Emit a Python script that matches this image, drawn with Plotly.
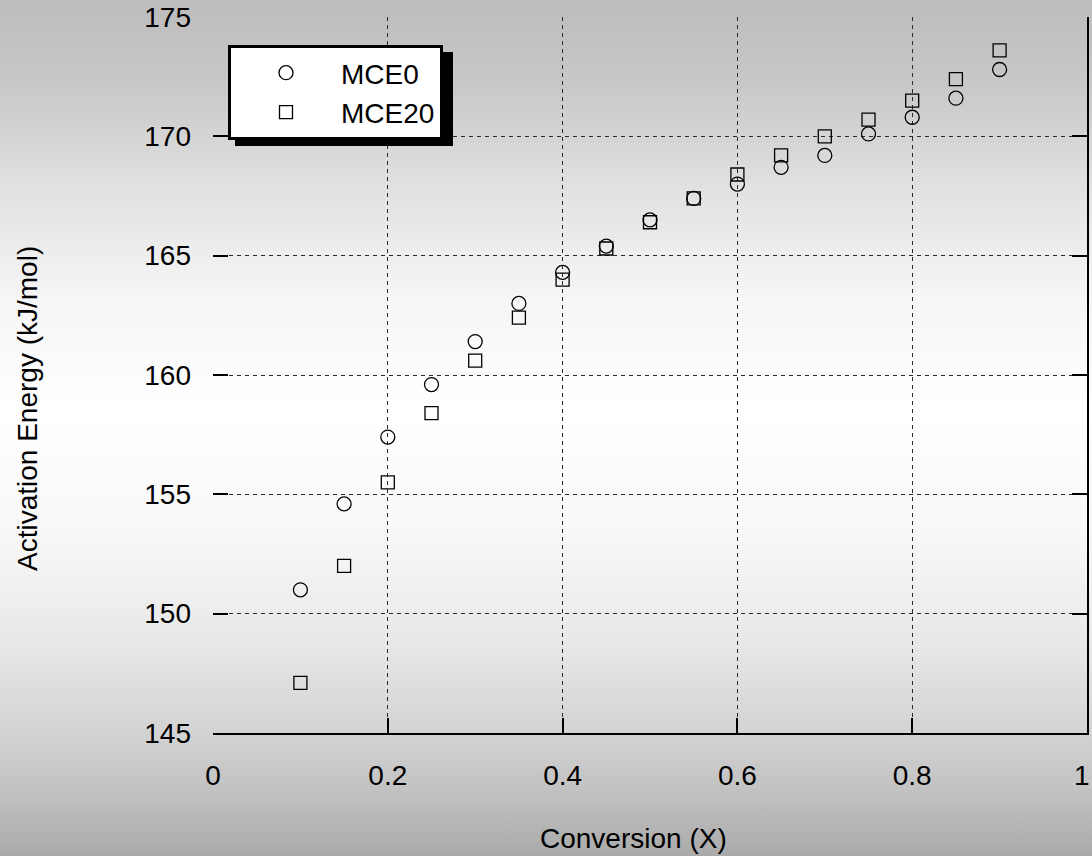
import base64
import plotly.graph_objects as go

# ---- data ----
conversion = [0.10, 0.15, 0.20, 0.25, 0.30, 0.35, 0.40, 0.45, 0.50,
              0.55, 0.60, 0.65, 0.70, 0.75, 0.80, 0.85, 0.90]
mce0 = [151.0, 154.6, 157.4, 159.6, 161.4, 163.0, 164.3, 165.4, 166.5,
        167.4, 168.0, 168.7, 169.2, 170.1, 170.8, 171.6, 172.8]
mce20 = [147.1, 152.0, 155.5, 158.4, 160.6, 162.4, 164.0, 165.3, 166.4,
         167.4, 168.4, 169.2, 170.0, 170.7, 171.5, 172.4, 173.6]
series_names = ["MCE0", "MCE20"]
x_ticks = [0, 0.2, 0.4, 0.6, 0.8, 1]
x_tick_labels = ["0", "0.2", "0.4", "0.6", "0.8", "1"]
y_ticks = [145, 150, 155, 160, 165, 170, 175]

# ---- layout geometry (pixels) ----
W, H = 1092, 856
L, R, T, B = 213, 1087, 17, 733
PW, PH = R - L, B - T

def px_x(p):
    return (p - L) / PW

def px_y(p):
    return (B - p) / PH

# vertical background gradient as an SVG
stops = [(0.00, 188), (0.10, 200), (0.22, 225), (0.35, 246), (0.48, 255),
         (0.62, 248), (0.75, 232), (0.86, 210), (0.93, 192), (1.00, 170)]
stop_xml = "".join(
    f'<stop offset="{o}" stop-color="rgb({g},{g},{g})"/>' for o, g in stops)
svg = (f'<svg xmlns="http://www.w3.org/2000/svg" width="{W}" height="{H}" '
       f'preserveAspectRatio="none">'
       f'<defs><linearGradient id="g" x1="0" y1="0" x2="0" y2="1">{stop_xml}'
       f'</linearGradient></defs><rect width="{W}" height="{H}" fill="url(#g)"/></svg>')
svg_uri = "data:image/svg+xml;base64," + base64.b64encode(svg.encode()).decode()

FONT = "Liberation Sans, Arial, sans-serif"
FS = 28

fig = go.Figure()
fig.add_trace(go.Scatter(
    x=conversion, y=mce0, mode="markers", name=series_names[0],
    marker=dict(symbol="circle-open", size=14, color="black",
                line=dict(color="black", width=1.3))))
fig.add_trace(go.Scatter(
    x=conversion, y=mce20, mode="markers", name=series_names[1],
    marker=dict(symbol="square-open", size=13, color="black",
                line=dict(color="black", width=1.3))))
# empty trace to materialise the right-hand axis
fig.add_trace(go.Scatter(x=[], y=[], yaxis="y2", showlegend=False,
                         hoverinfo="skip"))

grid = dict(showgrid=True, gridcolor="#2a2a2a", gridwidth=1, griddash="4px,4px",
            zeroline=False)

# legend box (pixels) and its drop shadow
LEG_L, LEG_T = 228, 45
SH = 7

# last x tick label is drawn as an annotation so it stays inside the page
axis_ticktext = x_tick_labels[:-1] + [""]

fig.update_layout(
    width=W, height=H,
    margin=dict(l=L, r=W - R, t=T, b=H - B, autoexpand=False),
    paper_bgcolor="#bdbdbd",
    plot_bgcolor="rgba(0,0,0,0)",
    font=dict(family=FONT, size=FS, color="black"),
    showlegend=True,
    xaxis=dict(range=[0, 1], tickvals=x_ticks, ticktext=axis_ticktext,
               showline=True, linecolor="black", linewidth=2,
               ticks="inside", ticklen=15, tickcolor="black", tickwidth=1.5,
               ticklabelstandoff=16, automargin=False, **grid),
    yaxis=dict(range=[145, 175], tickvals=y_ticks,
               showline=False, ticks="inside", ticklen=15, tickcolor="black",
               tickwidth=1.5, ticklabelstandoff=21, automargin=False, **grid),
    yaxis2=dict(range=[145, 175], tickvals=y_ticks, overlaying="y", side="right",
                showline=True, linecolor="black", linewidth=2,
                ticks="inside", ticklen=15, tickcolor="black", tickwidth=1.5,
                showticklabels=False, showgrid=False, zeroline=False,
                automargin=False),
    legend=dict(x=px_x(LEG_L), y=px_y(LEG_T), xanchor="left", yanchor="top",
                bgcolor="white", bordercolor="black", borderwidth=3,
                itemwidth=100, font=dict(family=FONT, size=FS, color="black")),
    images=[dict(source=svg_uri, xref="paper", yref="paper",
                 x=px_x(0), y=px_y(0), sizex=W / PW, sizey=H / PH,
                 xanchor="left", yanchor="top", sizing="stretch",
                 layer="below")],
    shapes=[dict(type="rect", xref="paper", yref="paper",
                 x0=px_x(LEG_L + SH), x1=px_x(446 + SH),
                 y0=px_y(139 + SH), y1=px_y(LEG_T + SH),
                 fillcolor="black", line=dict(width=0), layer="above")],
    annotations=[
        dict(text=x_tick_labels[-1], xref="paper", yref="paper",
             x=px_x(1091), y=px_y(775), xanchor="right", yanchor="middle",
             showarrow=False, borderpad=0,
             font=dict(family=FONT, size=FS, color="black")),
        dict(text="Conversion (X)", xref="paper", yref="paper",
             x=px_x(633), y=px_y(838), xanchor="center", yanchor="middle",
             showarrow=False, font=dict(family=FONT, size=FS, color="black")),
        dict(text="Activation Energy (kJ/mol)", xref="paper", yref="paper",
             x=px_x(27), y=px_y(409), xanchor="center", yanchor="middle",
             textangle=-90, showarrow=False,
             font=dict(family=FONT, size=FS, color="black")),
    ],
)

fig.write_html("out.html")
